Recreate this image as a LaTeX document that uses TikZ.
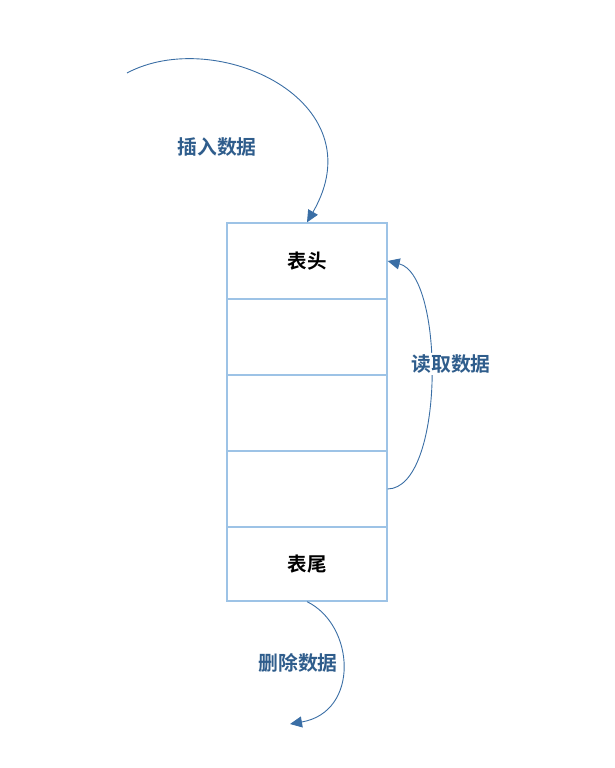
\documentclass[tikz,border=0pt]{standalone}
\usepackage{fontspec}
\newfontfamily\cjk{Noto Sans CJK SC}
\newfontfamily\cjkb{Noto Sans CJK SC Bold}
\usetikzlibrary{arrows.meta}
\definecolor{boxline}{HTML}{9DC3E6}
\definecolor{arrowc}{HTML}{3A6EA5}
\definecolor{labelc}{HTML}{2F5D8C}
\tikzset{
  cell/.style={draw=boxline, line width=1.3pt, minimum width=160pt, minimum height=76pt, inner sep=0pt, font=\cjkb\fontsize{19.5}{21}\selectfont, text=black},
  flow/.style={draw=arrowc, line width=0.9pt, -{Triangle[length=12pt,width=11pt]}},
  lbl/.style={font=\cjkb\fontsize{19.8}{21}\selectfont, text=labelc, inner sep=2pt},
}
\begin{document}
\begin{tikzpicture}[x=1pt,y=-1pt]
\useasboundingbox (0,0) rectangle (614,768);
\node[cell] (c1) at (307,261) {表头};
\node[cell] (c2) at (307,337) {};
\node[cell] (c3) at (307,413) {};
\node[cell] (c4) at (307,489) {};
\node[cell, minimum height=74pt] (c5) at (307,564) {表尾};
\coordinate (ins) at (127,73);
\coordinate (del) at (290,724);
\draw[flow] (ins) .. controls (215,26) and (378,100) .. (c1.north);
\node[lbl] (l1) at (217,147) {插入数据};
\draw[flow] (c4.east) .. controls (445,488) and (445,275) .. (c1.east);
\node[lbl, fill=white] (l2) at (451,364) {读取数据};
\draw[flow] (c5.south) .. controls (355,625) and (360,712) .. (del);
\node[lbl] (l3) at (298,663) {删除数据};
\end{tikzpicture}
\end{document}
